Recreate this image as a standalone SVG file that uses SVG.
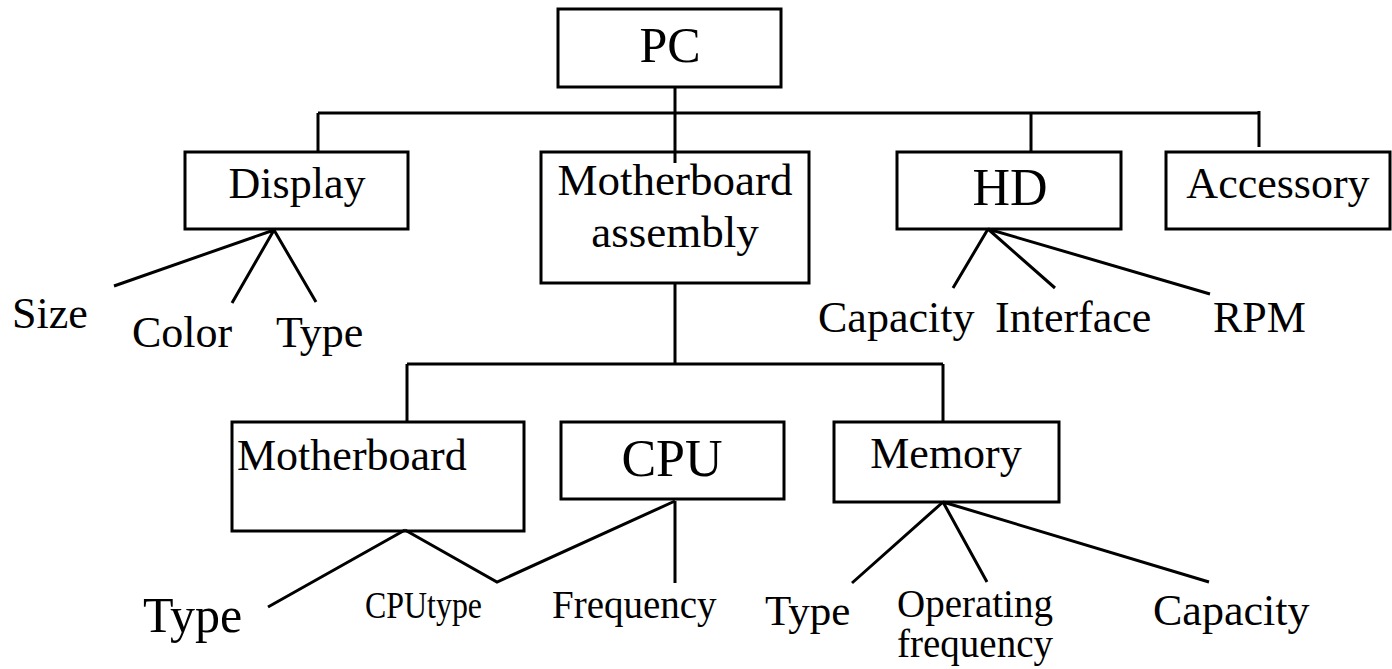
<svg xmlns="http://www.w3.org/2000/svg" width="1392" height="669" viewBox="0 0 1392 669">
<style>
.box{fill:#fff;stroke:#000;stroke-width:3}
.ln{fill:none;stroke:#000;stroke-width:3}
text{font-family:"Liberation Serif","Times New Roman",serif;fill:#000}
.c{text-anchor:middle}
</style>
<rect width="1392" height="669" fill="#fff"/>
<g id="pc"><rect class="box" x="558" y="9" width="223" height="78"/><text class="c" x="670" y="62" font-size="50">PC</text></g>
<g id="display"><rect class="box" x="185" y="152" width="223" height="77"/><text class="c" x="297" y="198" font-size="44">Display</text></g>
<g id="mbassembly"><rect class="box" x="541" y="152" width="268" height="131"/><text class="c" x="675" y="195" font-size="45">Motherboard</text><text class="c" x="675" y="247" font-size="45">assembly</text></g>
<g id="hd"><rect class="box" x="897" y="152" width="224" height="77"/><text class="c" x="1010" y="205" font-size="52">HD</text></g>
<g id="accessory"><rect class="box" x="1166" y="152" width="224" height="77"/><text class="c" x="1278" y="198" font-size="44">Accessory</text></g>
<g id="size"><text x="12" y="328" font-size="44">Size</text></g>
<g id="color"><text x="132" y="347" font-size="44">Color</text></g>
<g id="dtype"><text x="276" y="347" font-size="44">Type</text></g>
<g id="hdcapacity"><text x="818" y="332" font-size="44">Capacity</text></g>
<g id="interface"><text x="995" y="332" font-size="44">Interface</text></g>
<g id="rpm"><text x="1213" y="332" font-size="44">RPM</text></g>
<g id="motherboard"><rect class="box" x="232" y="422" width="292" height="109"/><text x="237" y="470" font-size="44">Motherboard</text></g>
<g id="cpu"><rect class="box" x="561" y="422" width="223" height="77"/><text class="c" x="672" y="476" font-size="52">CPU</text></g>
<g id="memory"><rect class="box" x="834" y="422" width="225" height="80"/><text class="c" x="946" y="468" font-size="44">Memory</text></g>
<g id="mbtype"><text x="143" y="632" font-size="50">Type</text></g>
<g id="cputype"><text x="365" y="618" font-size="37" textLength="117" lengthAdjust="spacingAndGlyphs">CPUtype</text></g>
<g id="frequency"><text x="552" y="618" font-size="39">Frequency</text></g>
<g id="memtype"><text x="765" y="625" font-size="43">Type</text></g>
<g id="opfreq"><text class="c" x="975" y="617" font-size="39">Operating</text><text class="c" x="975" y="657" font-size="39">frequency</text></g>
<g id="memcapacity"><text x="1153" y="625" font-size="44">Capacity</text></g>
<g id="connectors">
<path class="ln" d="M675 87V163M318 113H1259M318 113V152M1031 113V152M1259 111V147"/>
<path class="ln" d="M274 230L114 286M274 230L232 303M274 230L316 302"/>
<path class="ln" d="M988 229L953 288M988 229L1055 288M988 229L1210 294"/>
<path class="ln" d="M675 283V365M407 364H943M407 364V422M943 364V422"/>
<path class="ln" d="M405 530L268 607M405 530L497 582L675 501M675 501V583"/>
<path class="ln" d="M943 502L852 583M943 502L987 582M943 502L1209 582"/>
</g>
</svg>
